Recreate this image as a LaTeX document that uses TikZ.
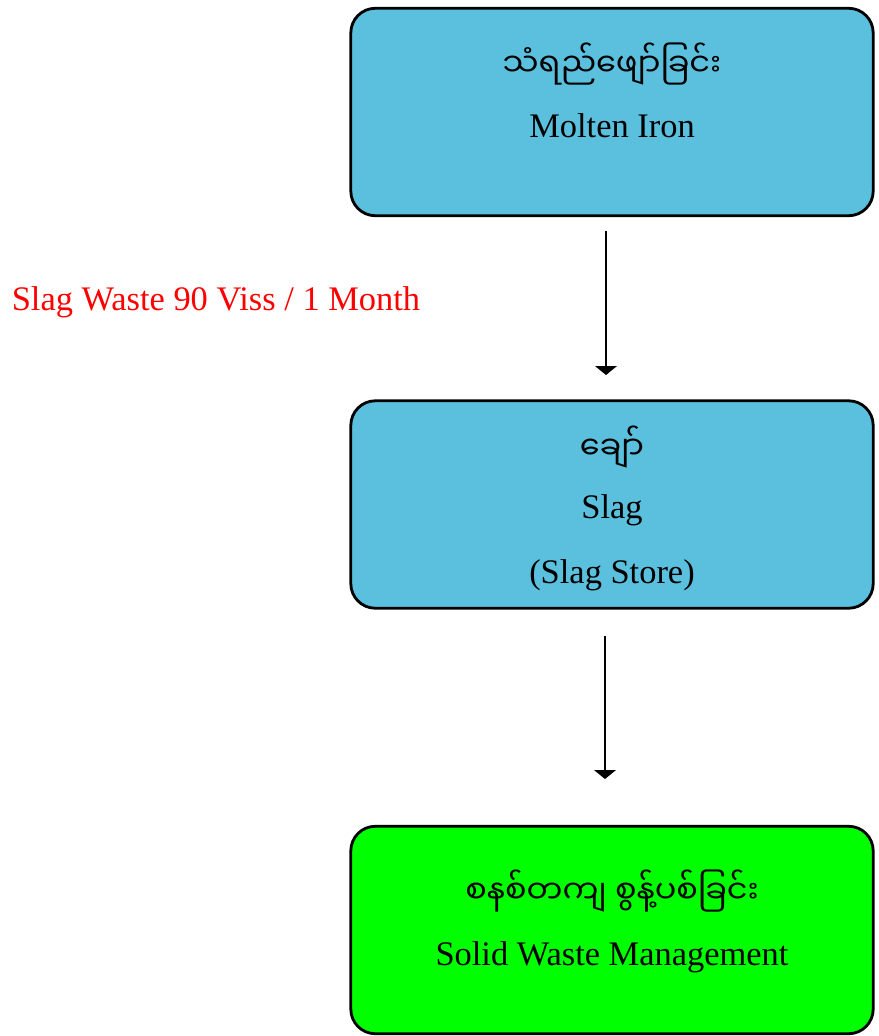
\documentclass[tikz,border=0pt]{standalone}
\usepackage{fontspec}
\setmainfont{Liberation Serif}
\newfontfamily\mmfont[Script=Myanmar]{Noto Sans Myanmar UI}
\usetikzlibrary{arrows.meta}
\definecolor{slagblue}{RGB}{91,192,222}
\definecolor{wastegreen}{RGB}{0,255,0}
\tikzset{>={Triangle[width=12pt,length=5pt]}}

\begin{document}
\begin{tikzpicture}[x=0.02cm,y=-0.02cm]
	\tikzstyle{stage} = [draw=black, line width=1.6pt, rounded corners=14pt, minimum width=10.45cm, minimum height=4.15cm]
	\tikzstyle{mm} = [font=\mmfont\fontsize{18.2}{22}\selectfont, inner sep=0pt]
	\tikzstyle{en} = [font=\fontsize{19.6}{23}\selectfont, inner sep=0pt]
	\tikzstyle{flow} = [->, line width=1.5pt]
	\useasboundingbox (0,0) rectangle (879,1036);

%----------Molten iron------------------------------
	\node[stage, fill=slagblue] (iron) at (612,112) {};
	\node[mm] (ironmm) at (612,64) {သံရည်ဖျော်ခြင်း};
	\node[en] (ironen) at (612,126) {Molten Iron};

%----------Slag------------------------------
	\node[stage, fill=slagblue] (slag) at (612,504.5) {};
	\node[mm] (slagmm) at (612,447) {ချော်};
	\node[en] (slagen) at (612,510) {Slag};
	\node[en] (slagstore) at (612,575) {(Slag Store)};

%----------Solid waste------------------------------
	\node[stage, fill=wastegreen] (waste) at (612,930) {};
	\node[mm] (wastemm) at (612,891) {စနစ်တကျ စွန့်ပစ်ခြင်း};
	\node[en] (wasteen) at (612,957) {Solid Waste Management};

%----------Arrows------------------------------
	\node[en, text=red] (amount) at (216,302) {Slag Waste 90 Viss / 1 Month};
	\coordinate (a1s) at (606,231);
	\coordinate (a1e) at (606,375);
	\coordinate (a2s) at (605,636);
	\coordinate (a2e) at (605,779);
	\draw[flow] (a1s) -- (a1e);
	\draw[flow] (a2s) -- (a2e);

\end{tikzpicture}
\end{document}
